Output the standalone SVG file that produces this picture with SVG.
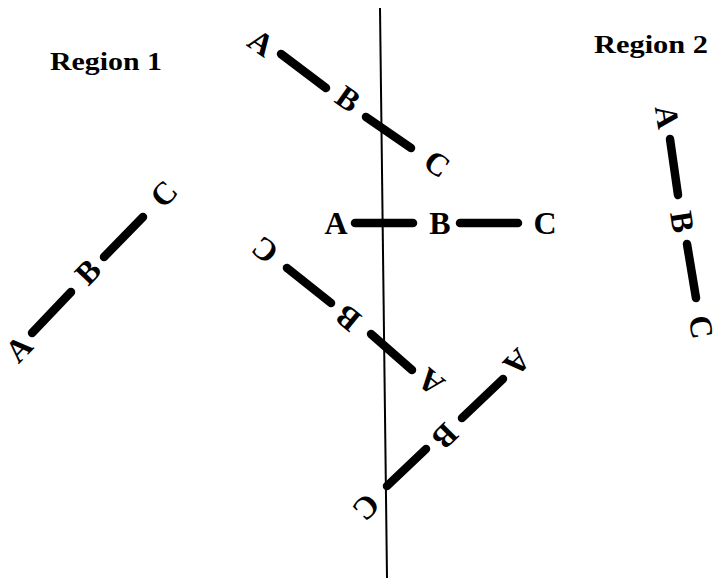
<svg xmlns="http://www.w3.org/2000/svg" width="715" height="581" viewBox="0 0 715 581">
<style>
.lbl{font-family:"Liberation Serif","Times New Roman",serif;font-weight:bold;font-size:32px;fill:#000;text-anchor:middle}
.reg{font-family:"Liberation Serif","Times New Roman",serif;font-weight:bold;font-size:25px;fill:#000}
.bar{stroke:#000;stroke-width:8.5;stroke-linecap:round;fill:none}
.axis{stroke:#000;stroke-width:2;fill:none}
</style>
<rect width="715" height="581" fill="#fff"/>
<g id="regions">
<text class="reg" x="50" y="70" textLength="112" lengthAdjust="spacingAndGlyphs">Region 1</text>
<text class="reg" x="594" y="53" textLength="114" lengthAdjust="spacingAndGlyphs">Region 2</text>
</g>
<g id="connectors">
<line class="axis" x1="380" y1="8" x2="387" y2="578"/>
<line class="bar" x1="281" y1="54" x2="326" y2="88"/>
<line class="bar" x1="366" y1="117" x2="411" y2="148"/>
<line class="bar" x1="32" y1="333" x2="71" y2="292"/>
<line class="bar" x1="104" y1="257" x2="143" y2="217"/>
<line class="bar" x1="355" y1="223" x2="413" y2="223"/>
<line class="bar" x1="460" y1="223" x2="518" y2="223"/>
<line class="bar" x1="287" y1="268" x2="331" y2="303"/>
<line class="bar" x1="371" y1="334" x2="412" y2="370"/>
<line class="bar" x1="503" y1="379" x2="462" y2="418"/>
<line class="bar" x1="426" y1="449" x2="387" y2="486"/>
<line class="bar" x1="670" y1="139" x2="678" y2="195"/>
<line class="bar" x1="687" y1="244" x2="696" y2="298"/>
</g>
<g id="node-top">
<text class="lbl" transform="translate(261,43) rotate(35)" y="10.5">A</text>
<text class="lbl" transform="translate(348,99) rotate(35)" y="10.5">B</text>
<text class="lbl" transform="translate(437,164) rotate(35)" y="10.5">C</text>
</g>
<g id="node-left">
<text class="lbl" transform="translate(19,349) rotate(-46)" y="10.5">A</text>
<text class="lbl" transform="translate(88,272) rotate(-46)" y="10.5">B</text>
<text class="lbl" transform="translate(164,194) rotate(-46)" y="10.5">C</text>
</g>
<g id="node-horizontal">
<text class="lbl" transform="translate(336,223)" y="10.5">A</text>
<text class="lbl" transform="translate(440,223)" y="10.5">B</text>
<text class="lbl" transform="translate(545,223)" y="10.5">C</text>
</g>
<g id="node-middle">
<text class="lbl" transform="translate(431,382) rotate(-141)" y="10.5">A</text>
<text class="lbl" transform="translate(348,318) rotate(-141)" y="10.5">B</text>
<text class="lbl" transform="translate(265,250) rotate(-141)" y="10.5">C</text>
</g>
<g id="node-bottom">
<text class="lbl" transform="translate(517,362) rotate(135)" y="10.5">A</text>
<text class="lbl" transform="translate(445,436) rotate(135)" y="10.5">B</text>
<text class="lbl" transform="translate(366,507) rotate(135)" y="10.5">C</text>
</g>
<g id="node-right">
<text class="lbl" transform="translate(667,117) rotate(81)" y="10.5">A</text>
<text class="lbl" transform="translate(682,222) rotate(81)" y="10.5">B</text>
<text class="lbl" transform="translate(701,327) rotate(81)" y="10.5">C</text>
</g>
</svg>
